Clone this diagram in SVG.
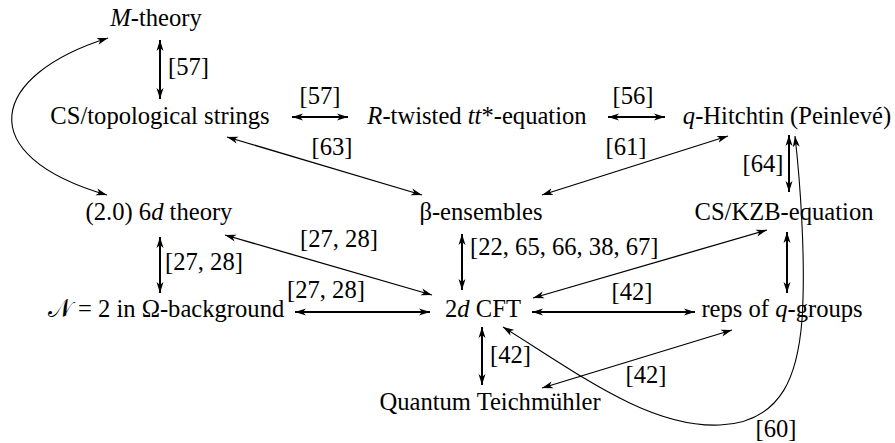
<svg xmlns="http://www.w3.org/2000/svg" width="895" height="443" viewBox="0 0 895 443">
<defs>
<style>
.t{font-size:24.6px;fill:#000}
.m{text-anchor:middle}
.i{font-style:italic}
.thick{stroke:#000;stroke-width:2;fill:none;marker-start:url(#ah);marker-end:url(#ah)}
.thin{stroke:#000;stroke-width:1.3;fill:none;marker-start:url(#ah);marker-end:url(#ah)}
.curve{stroke:#000;stroke-width:1.1;fill:none;marker-start:url(#ah);marker-end:url(#ah)}
</style>
<marker id="ah" markerUnits="userSpaceOnUse" markerWidth="12" markerHeight="8" refX="11" refY="4" orient="auto-start-reverse" viewBox="0 0 12 8">
<path d="M0,0.5 L11,4 L0,7.5 L3,4 z" fill="#000"/>
</marker>
</defs>
<g id="connectors">
<line class="thick" x1="160" y1="40" x2="160" y2="99"/>
<line class="thick" x1="292" y1="117" x2="348" y2="117"/>
<line class="thick" x1="608" y1="117" x2="665" y2="117"/>
<line class="thick" x1="789" y1="135" x2="789" y2="192"/>
<line class="thick" x1="160" y1="237" x2="160" y2="293"/>
<line class="thick" x1="462" y1="234" x2="462" y2="290"/>
<line class="thick" x1="295" y1="312" x2="430" y2="312"/>
<line class="thick" x1="532" y1="312" x2="695" y2="312"/>
<line class="thick" x1="787" y1="232" x2="787" y2="293"/>
<line class="thick" x1="482" y1="327" x2="482" y2="385"/>
<line class="thin" x1="227" y1="137" x2="422" y2="195"/>
<line class="thin" x1="728" y1="136" x2="542" y2="195"/>
<line class="thin" x1="225" y1="235" x2="432" y2="295"/>
<line class="thin" x1="533" y1="298" x2="767" y2="230"/>
<line class="thin" x1="732" y1="330" x2="542" y2="388"/>
<path class="curve" d="M108,38 C-10,75 -30,155 107,195"/>
<path class="curve" d="M503,327 C580,375 650,428 720,425 C785,422 798,370 802,320 C806,260 800,180 795,136"/>
</g>
<g font-family="'Liberation Serif', 'Times New Roman', 'DejaVu Serif', serif">
<g id="labels">
<text class="t" x="168" y="75">[57]</text>
<text class="t m" x="320" y="104">[57]</text>
<text class="t m" x="633" y="104">[56]</text>
<text class="t m" x="332" y="155">[63]</text>
<text class="t m" x="626" y="155">[61]</text>
<text class="t m" x="763" y="172">[64]</text>
<text class="t" x="165" y="270">[27, 28]</text>
<text class="t" x="300" y="247">[27, 28]</text>
<text class="t" x="470" y="255">[22, 65, 66, 38, 67]</text>
<text class="t" x="287" y="298">[27, 28]</text>
<text class="t m" x="632" y="300">[42]</text>
<text class="t" x="490" y="363">[42]</text>
<text class="t m" x="646" y="383">[42]</text>
<text class="t m" x="776" y="437">[60]</text>
</g>
<g id="m-theory"><text class="t m" x="156" y="26"><tspan class="i">M</tspan>-theory</text></g>
<g id="cs-topological"><text class="t m" x="160" y="124">CS/topological strings</text></g>
<g id="r-twisted"><text class="t m" x="477" y="124"><tspan class="i">R</tspan>-twisted <tspan class="i">tt</tspan>*-equation</text></g>
<g id="q-hitchtin"><text class="t m" x="787" y="124"><tspan class="i">q</tspan>-Hitchtin (Peinlevé)</text></g>
<g id="six-d"><text class="t m" x="159" y="220">(2.0) 6<tspan class="i">d</tspan> theory</text></g>
<g id="beta"><text class="t m" x="481" y="220">β-ensembles</text></g>
<g id="cs-kzb"><text class="t m" x="784" y="220">CS/KZB-equation</text></g>
<g id="n2"><text class="t m" x="166" y="317">𝒩 = 2 in Ω-background</text></g>
<g id="cft"><text class="t m" x="483" y="317">2<tspan class="i">d</tspan> CFT</text></g>
<g id="reps"><text class="t m" x="782" y="317">reps of <tspan class="i">q</tspan>-groups</text></g>
<g id="quantum"><text class="t m" x="490" y="410">Quantum Teichmühler</text></g>
</g>
</svg>
